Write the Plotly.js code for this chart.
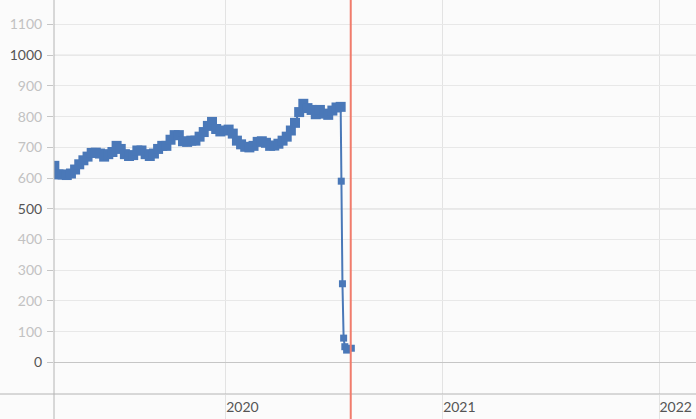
<!DOCTYPE html>
<html>
<head>
<meta charset="utf-8">
<script src="https://cdn.plot.ly/plotly-3.0.1.min.js"></script>
<style>
  html, body { margin: 0; padding: 0; background: #fbfbfb; }
  #chart { width: 696px; height: 419px; }
</style>
</head>
<body>
<div id="chart"></div>
<script>
// weekly readings, then the daily ones at the drop
let dates = [
    '2019-03-18', '2019-03-25', '2019-04-01', '2019-04-08', '2019-04-15', '2019-04-22', '2019-04-29',
    '2019-05-06', '2019-05-13', '2019-05-20', '2019-05-27', '2019-06-03', '2019-06-10', '2019-06-17',
    '2019-06-24', '2019-07-01', '2019-07-08', '2019-07-15', '2019-07-22', '2019-07-29', '2019-08-05',
    '2019-08-12', '2019-08-19', '2019-08-26', '2019-09-02', '2019-09-09', '2019-09-16', '2019-09-23',
    '2019-09-30', '2019-10-07', '2019-10-14', '2019-10-21', '2019-10-28', '2019-11-04', '2019-11-11',
    '2019-11-18', '2019-11-25', '2019-12-02', '2019-12-09', '2019-12-16', '2019-12-23', '2019-12-30',
    '2020-01-06', '2020-01-13', '2020-01-20', '2020-01-27', '2020-02-03', '2020-02-10', '2020-02-17',
    '2020-02-24', '2020-03-02', '2020-03-09', '2020-03-16', '2020-03-23', '2020-03-30', '2020-04-06',
    '2020-04-13', '2020-04-20', '2020-04-27', '2020-05-04', '2020-05-11', '2020-05-18', '2020-05-25',
    '2020-06-01', '2020-06-08', '2020-06-15', '2020-06-22', '2020-06-29', '2020-07-06', '2020-07-13',
    '2020-07-14', '2020-07-16', '2020-07-18', '2020-07-20', '2020-07-23', '2020-07-31'
];
let values = [
    640, 612, 612, 610, 615, 628, 645,
    658, 670, 682, 683, 680, 670, 678,
    685, 705, 695, 678, 672, 675, 690,
    690, 678, 672, 680, 695, 705, 705,
    725, 740, 740, 720, 718, 722, 722,
    735, 750, 770, 783, 760, 752, 755,
    758, 745, 722, 710, 702, 700, 705,
    718, 720, 715, 705, 706, 712, 722,
    735, 755, 780, 815, 842, 828, 822,
    808, 822, 810, 806, 820, 830, 832,
    590, 256, 79, 51, 40, 46
];
let yTicks = [0, 100, 200, 300, 400, 500, 600, 700, 800, 900, 1000, 1100];
let yStrong = [0, 500, 1000];
let markerDate = '2020-07-30';
let dropStart = '2020-07-14';

let yTickText = yTicks.map(v => yStrong.includes(v)
    ? '<span style="color:#555555">' + v + '</span>'
    : '<span style="color:#c2c2c2">' + v + '</span>');

// the dense weekly run gets a bigger square so it reads as a solid band
let markerSizes = dates.map(d => d < dropStart ? 10 : 7);

let trace = {
    type: 'scatter',
    mode: 'lines+markers',
    x: dates,
    y: values,
    line: { color: '#4a78b8', width: 2 },
    marker: {
        symbol: 'square',
        size: markerSizes,
        color: '#4a78b8',
        opacity: 1,
        line: { width: 0 }
    }
};

let shapes = [];
// darker grid lines at the round values
for (let v of [500, 1000]) {
    shapes.push({
        type: 'line', xref: 'paper', yref: 'y', x0: 0, x1: 1, y0: v, y1: v,
        line: { color: '#c6c6c6', width: 1 }, layer: 'below'
    });
}
// axis lines that run past the plot corner
shapes.push({
    type: 'line', xref: 'paper', yref: 'paper', x0: -54 / 642, x1: 1, y0: 0, y1: 0,
    line: { color: '#b4b4b4', width: 1 }
});
shapes.push({
    type: 'line', xref: 'paper', yref: 'paper', x0: 0, x1: 0, y0: -25 / 394, y1: 1,
    line: { color: '#b4b4b4', width: 1 }
});
// red marker line
shapes.push({
    type: 'line', xref: 'x', yref: 'paper', x0: markerDate, x1: markerDate, y0: -25 / 394, y1: 1,
    line: { color: '#f07c6c', width: 2 }
});

let layout = {
    width: 696,
    height: 419,
    margin: { t: 0, r: 0, b: 25, l: 54 },
    paper_bgcolor: '#fbfbfb',
    plot_bgcolor: '#fbfbfb',
    showlegend: false,
    font: { family: 'Lato, "Open Sans", sans-serif', size: 14, color: '#555555' },
    xaxis: {
        type: 'date',
        range: ['2019-03-17 10:00', '2022-03-04 10:00'],
        tickvals: ['2020-01-01', '2021-01-01', '2022-01-01'],
        ticktext: ['2020', '2021', '2022'],
        showgrid: true,
        gridcolor: '#e3e3e3',
        ticks: 'outside',
        ticklen: 25,
        tickcolor: '#e3e3e3',
        ticklabelposition: 'outside right',
        zeroline: false,
        showline: false,
        tickfont: { size: 14, color: '#555555' }
    },
    yaxis: {
        range: [-103, 1180],
        tickvals: yTicks,
        ticktext: yTickText,
        showgrid: true,
        gridcolor: '#e8e8e8',
        zeroline: true,
        zerolinecolor: '#c6c6c6',
        zerolinewidth: 1,
        ticks: 'outside',
        ticklen: 6,
        tickcolor: '#c6c6c6',
        ticklabelstandoff: 2,
        showline: false,
        tickfont: { size: 14 }
    },
    shapes: shapes
};

Plotly.newPlot('chart', [trace], layout, { staticPlot: true });
</script>
</body>
</html>
